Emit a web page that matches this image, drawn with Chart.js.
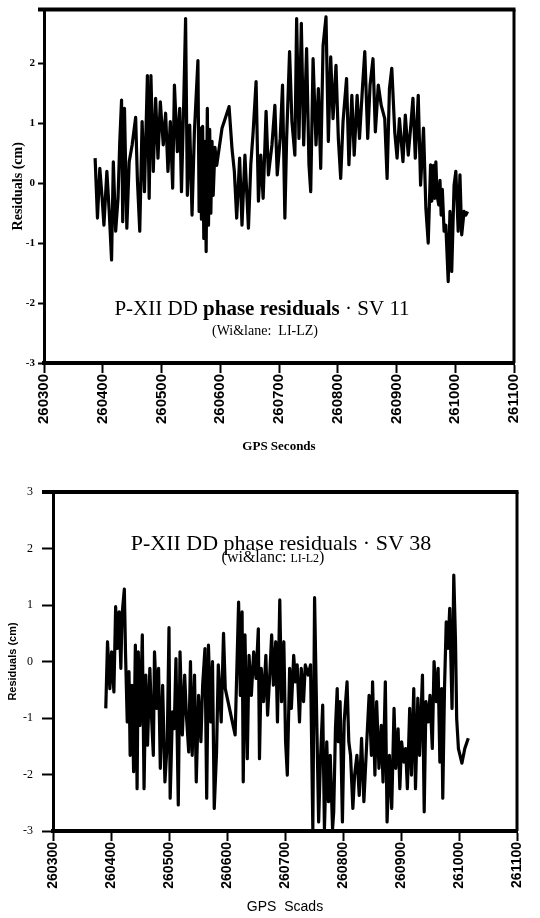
<!DOCTYPE html>
<html>
<head>
<meta charset="utf-8">
<script src="https://cdn.jsdelivr.net/npm/chart.js@4.4.1/dist/chart.umd.min.js"></script>
<style>
  body { margin: 0; background: #fff; }
  canvas { display: block; }
</style>
</head>
<body>
<canvas id="sv11" width="540" height="460"></canvas>
<canvas id="sv38" width="540" height="458"></canvas>
<script>
// tick labels
const xTicks = [260300, 260400, 260500, 260600, 260700, 260800, 260900, 261000, 261100];
const yTicks11 = [-3, -2, -1, 0, 1, 2];
const yTicks38 = [-3, -2, -1, 0, 1, 2, 3];

// SV 11 residuals (GPS seconds / cm)
const sv11Sec = [260387, 260391, 260395, 260399, 260402, 260407, 260411, 260415, 260418, 260422,
  260426, 260429, 260432, 260434, 260437, 260441, 260445, 260450, 260456, 260459,
  260463, 260467, 260471, 260476, 260479, 260482, 260486, 260490, 260494, 260498,
  260503, 260507, 260511, 260515, 260519, 260522, 260527, 260531, 260534, 260538,
  260541, 260544, 260548, 260552, 260556, 260562, 260564, 260566, 260568, 260570,
  260572, 260574, 260576, 260578, 260580, 260582, 260584, 260586, 260588, 260591,
  260594, 260603, 260615, 260620, 260624, 260628, 260633, 260637, 260642, 260648,
  260652, 260656, 260661, 260665, 260669, 260673, 260678, 260682, 260688, 260693,
  260697, 260702, 260706, 260710, 260713, 260718, 260722, 260727, 260730, 260734,
  260738, 260742, 260747, 260751, 260754, 260758, 260763, 260767, 260771, 260775,
  260780, 260784, 260788, 260792, 260797, 260801, 260805, 260809, 260815, 260819,
  260824, 260828, 260833, 260837, 260842, 260846, 260851, 260855, 260860, 260864,
  260869, 260874, 260880, 260884, 260888, 260892, 260897, 260901, 260905, 260911,
  260915, 260920, 260924, 260928, 260932, 260937, 260941, 260946, 260950, 260954,
  260958, 260960, 260963, 260965, 260967, 260969, 260972, 260974, 260976, 260978,
  260981, 260984, 260988, 260991, 260994, 260998, 261001, 261005, 261008, 261011,
  261015, 261018, 261021];
const sv11Res = [0.42, -0.58, 0.25, -0.25, -0.7, 0.2, -0.47, -1.28, 0.36, -0.8,
  -0.25, 0.7, 1.39, -0.64, 1.25, -0.75, 0.36, 0.64, 1.1, 0.05,
  -0.8, 1.03, -0.14, 1.8, -0.25, 1.8, 0.2, 1.42, 0.42, 1.36,
  0.64, 1.17, 0.2, 1.03, -0.08, 1.64, 0.53, 1.25, -0.14, 1.42,
  2.75, -0.2, 0.97, -0.53, 0.86, 2.05, -0.47, 0.92, -0.6, 0.95,
  -0.92, 0.7, -1.14, 1.25, -0.7, 0.9, -0.5, 0.7, -0.2, 0.6,
  0.3, 0.92, 1.28, 0.58, 0.2, -0.58, 0.42, -0.7, 0.47, -0.75,
  0.31, 0.86, 1.7, -0.3, 0.47, -0.25, 1.2, 0.14, 0.64, 1.3,
  0.14, 0.75, 1.64, -0.58, 0.75, 2.2, 1.03, 0.47, 2.75, 0.75,
  2.67, 0.64, 2.25, 0.31, -0.14, 2.08, 0.64, 1.58, 0.25, 2.3,
  2.78, 0.7, 2.11, 1.08, 1.97, 0.75, 0.08, 1.03, 1.75, 0.31,
  1.47, 0.47, 1.47, 0.75, 1.58, 2.2, 0.75, 1.64, 2.08, 0.86,
  1.64, 1.3, 1.08, 0.08, 1.58, 1.92, 0.86, 0.42, 1.08, 0.36,
  1.14, 0.47, 0.92, 1.42, 0.42, 1.47, -0.03, 0.92, -0.42, -1.0,
  0.31, -0.3, 0.3, -0.25, 0.36, -0.2, -0.36, 0.05, -0.53, -0.1,
  -0.8, -0.7, -1.64, -0.47, -1.47, -0.03, 0.2, -0.8, 0.14, -0.86,
  -0.47, -0.53, -0.47];

// SV 38 residuals (GPS seconds / cm)
const sv38Sec = [260391, 260394, 260398, 260401, 260405, 260408, 260411, 260414, 260417, 260419,
  260423, 260425, 260428, 260431, 260433, 260436, 260439, 260442, 260445, 260447,
  260450, 260454, 260457, 260460, 260463, 260467, 260470, 260473, 260475, 260479,
  260482, 260485, 260489, 260493, 260497, 260500, 260502, 260506, 260509, 260512,
  260516, 260519, 260523, 260527, 260530, 260534, 260537, 260540, 260544, 260547,
  260551, 260555, 260558, 260562, 260565, 260568, 260572, 260575, 260578, 260582,
  260585, 260587, 260590, 260594, 260597, 260614, 260620, 260623, 260626, 260628,
  260631, 260635, 260638, 260642, 260646, 260650, 260654, 260656, 260659, 260663,
  260667, 260670, 260674, 260677, 260680, 260684, 260687, 260691, 260694, 260698,
  260701, 260704, 260708, 260711, 260715, 260718, 260721, 260725, 260728, 260732,
  260735, 260740, 260744, 260748, 260751, 260755, 260758, 260761, 260765, 260768,
  260772, 260775, 260778, 260782, 260784, 260787, 260790, 260792, 260795, 260799,
  260802, 260807, 260810, 260813, 260817, 260820, 260824, 260828, 260832, 260836,
  260841, 260845, 260849, 260851, 260855, 260858, 260862, 260866, 260869, 260873,
  260876, 260880, 260884, 260888, 260891, 260895, 260898, 260901, 260905, 260908,
  260911, 260915, 260918, 260922, 260925, 260929, 260932, 260937, 260940, 260943,
  260947, 260950, 260954, 260957, 260961, 260964, 260967, 260970, 260972, 260975,
  260978, 260981, 260984, 260988, 260991, 260994, 260996, 260999, 261005, 261010,
  261016];
const sv38Res = [-0.83, 0.35, -0.48, 0.17, -0.54, 0.97, 0.23, 0.88, -0.12, 0.82,
  1.28, 0.17, -1.07, -0.18, -1.66, -0.42, -1.95, 0.29, -2.25, 0.17,
  -1.13, 0.47, -2.25, -0.24, -1.48, -0.12, -1.01, -1.66, 0.17, -0.83,
  -0.12, -1.89, -0.42, -2.13, -1.42, 0.6, -2.42, -0.89, -1.19, 0.05,
  -2.54, 0.17, -1.3, -0.24, -0.95, -1.6, 0.0, -1.66, -0.24, -2.13,
  -0.6, -1.42, -0.42, 0.23, -2.42, 0.29, -1.07, 0.0, -2.6, -1.6,
  -0.06, -0.42, -1.07, 0.5, -0.48, -1.3, 1.05, -0.6, 0.88, -2.13,
  0.47, -1.72, 0.11, -0.6, 0.17, -0.3, 0.58, -1.72, -0.12, -0.71,
  0.11, -0.95, -0.18, 0.47, -0.42, 0.35, -1.07, 1.09, -0.71, 0.35,
  -1.42, -2.01, -0.12, -0.83, 0.11, -0.36, -0.06, -1.07, -0.12, -0.71,
  -0.06, -0.24, -0.06, -2.96, 1.13, -1.19, -2.84, -1.78, -0.77, -2.96,
  -1.42, -2.48, -1.66, -2.96, -2.66, -1.19, -0.48, -1.42, -0.71, -2.84,
  -1.07, -0.36, -1.42, -1.66, -2.6, -2.01, -1.66, -2.37, -1.36, -2.48,
  -1.42, -0.6, -1.66, -0.36, -2.01, -0.71, -1.89, -1.13, -2.13, -0.36,
  -2.84, -1.66, -2.6, -0.83, -1.89, -1.19, -2.25, -1.42, -1.78, -1.54,
  -2.25, -0.83, -2.01, -0.48, -2.25, -0.65, -1.66, -0.24, -2.66, -0.71,
  -1.07, -0.6, -1.54, 0.0, -0.71, -0.12, -1.78, -0.48, -2.42, -0.48,
  0.7, 0.23, 0.94, -0.83, 1.53, 0.35, -1.01, -1.54, -1.8, -1.54,
  -1.36];

const SERIF = "'Liberation Serif', 'DejaVu Serif', serif";
const SANS = "'Liberation Sans', Arial, sans-serif";

// top and right edges of the box
const framePlugin = {
  id: 'frame',
  afterDraw(chart, args, opts) {
    const { ctx, chartArea: a } = chart;
    ctx.save();
    ctx.strokeStyle = '#000';
    ctx.lineWidth = opts.top;
    ctx.beginPath();
    ctx.moveTo(a.left - opts.ext, a.top);
    ctx.lineTo(a.right + opts.right / 2, a.top);
    ctx.stroke();
    ctx.lineWidth = opts.right;
    ctx.beginPath();
    ctx.moveTo(a.right, a.top);
    ctx.lineTo(a.right, a.bottom);
    ctx.stroke();
    ctx.restore();
  }
};

// caption inside the plot, runs of text with their own font
const captionPlugin = {
  id: 'caption',
  afterDatasetsDraw(chart, args, opts) {
    const ctx = chart.ctx;
    ctx.save();
    ctx.fillStyle = '#000';
    ctx.textBaseline = 'alphabetic';
    ctx.textAlign = 'left';
    opts.lines.forEach(line => {
      let w = 0;
      line.runs.forEach(r => { ctx.font = r.font; w += ctx.measureText(r.text).width; });
      let x = line.x - w / 2;
      line.runs.forEach(r => {
        ctx.font = r.font;
        ctx.fillText(r.text, x, line.y);
        x += ctx.measureText(r.text).width;
      });
    });
    ctx.restore();
  }
};

function makeChart(id, c) {
  return new Chart(document.getElementById(id), {
    type: 'line',
    data: {
      datasets: [{
        data: c.sec.map((x, i) => ({ x: x, y: c.res[i] })),
        borderColor: '#000',
        borderWidth: 3.2,
        borderJoinStyle: 'round',
        pointRadius: 0,
        tension: 0,
        fill: false
      }]
    },
    options: {
      responsive: false,
      animation: false,
      devicePixelRatio: 1,
      layout: { padding: { top: c.padTop, right: c.padRight, left: 0, bottom: 0 } },
      plugins: {
        legend: { display: false },
        tooltip: { enabled: false },
        frame: { top: 4, right: 3, ext: c.yTickLen },
        caption: { lines: c.caption }
      },
      scales: {
        x: {
          type: 'linear',
          min: 260300,
          max: 261100,
          afterBuildTicks: s => { s.ticks = xTicks.map(v => ({ value: v })); },
          afterFit: s => { s.height = c.xHeight; },
          ticks: {
            autoSkip: false,
            minRotation: 90,
            maxRotation: 90,
            padding: 1,
            color: '#000',
            font: { family: SANS, size: c.xTickSize, weight: 'bold' },
            callback: v => String(v)
          },
          grid: { drawOnChartArea: false, tickLength: 10, tickWidth: 2, tickColor: '#000' },
          border: { color: '#000', width: 4 },
          title: {
            display: true,
            text: c.xTitle,
            color: '#000',
            font: c.xTitleFont,
            padding: { top: 0, bottom: c.xTitlePad }
          }
        },
        y: {
          min: -3,
          max: c.yMax,
          afterBuildTicks: s => { s.ticks = c.yTicks.map(v => ({ value: v })); },
          afterFit: s => { s.width = c.yWidth; },
          ticks: {
            padding: c.yTickPad,
            color: '#000',
            font: c.yTickFont,
            callback: v => String(v)
          },
          grid: { drawOnChartArea: false, tickLength: c.yTickLen, tickWidth: 2, tickColor: '#000' },
          border: { color: '#000', width: 3 },
          title: {
            display: true,
            text: 'Residuals (cm)',
            color: '#000',
            font: c.yTitleFont,
            padding: { top: c.yTitlePad, bottom: 0 }
          }
        }
      }
    },
    plugins: [framePlugin, captionPlugin]
  });
}

makeChart('sv11', {
  sec: sv11Sec, res: sv11Res, yTicks: yTicks11, yMax: 2.9,
  padTop: 8, padRight: 26, yWidth: 44, xHeight: 97,
  yTickLen: 6, yTickPad: 3,
  yTickFont: { family: SERIF, size: 11, weight: 'bold' },
  yTitleFont: { family: SERIF, size: 14, weight: 'bold' }, yTitlePad: 10,
  xTickSize: 15,
  xTitle: 'GPS Seconds', xTitleFont: { family: SERIF, size: 13, weight: 'bold' }, xTitlePad: 6,
  caption: [
    { x: 262, y: 315, runs: [
      { text: 'P-XII DD ', font: '21px ' + SERIF },
      { text: 'phase residuals', font: 'bold 21px ' + SERIF },
      { text: ' \u00b7 SV 11', font: '21px ' + SERIF }
    ] },
    { x: 265, y: 335, runs: [{ text: '(Wi&lane:  LI-LZ)', font: '14px ' + SERIF }] }
  ]
});

makeChart('sv38', {
  sec: sv38Sec, res: sv38Res, yTicks: yTicks38, yMax: 3,
  padTop: 32, padRight: 23, yWidth: 53, xHeight: 87,
  yTickLen: 11, yTickPad: 9,
  yTickFont: { family: SERIF, size: 12 },
  yTitleFont: { family: SANS, size: 11, weight: 'bold' }, yTitlePad: 6,
  xTickSize: 14,
  xTitle: 'GPS  Scads', xTitleFont: { family: SANS, size: 14 }, xTitlePad: 2,
  caption: [
    { x: 281, y: 90, runs: [{ text: 'P-XII DD phase residuals \u00b7 SV 38', font: '22px ' + SERIF }] },
    { x: 273, y: 102, runs: [
      { text: '(wi&lanc: ', font: '16px ' + SERIF },
      { text: 'LI-L2', font: '12px ' + SERIF },
      { text: ')', font: '16px ' + SERIF }
    ] }
  ]
});
</script>
</body>
</html>
